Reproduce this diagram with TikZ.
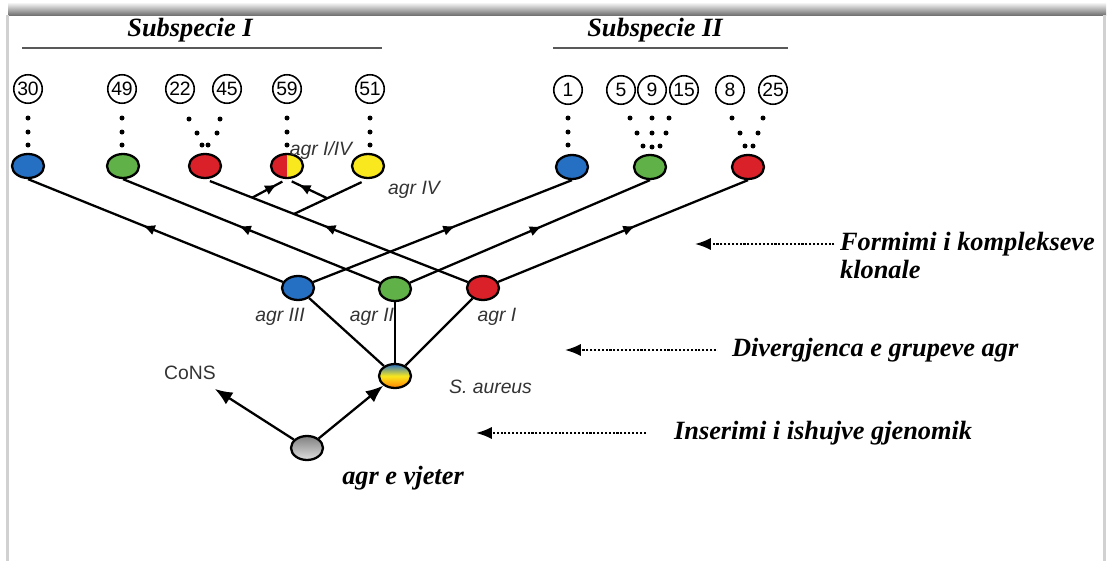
\documentclass[tikz,border=0pt]{standalone}
\usepackage{fontspec}
\setmainfont{Liberation Serif}
\setsansfont{Liberation Sans}
\usetikzlibrary{shapes,arrows,arrows.meta,calc,decorations.markings}
\definecolor{agrblue}{RGB}{38,112,196}
\definecolor{agrgreen}{RGB}{96,178,72}
\definecolor{agrred}{RGB}{218,32,40}
\definecolor{agryellow}{RGB}{250,232,30}
\tikzstyle{agr} = [ellipse, draw, line width=1.3pt, minimum width=0.64cm,
    minimum height=0.48cm, inner sep=0pt]
\tikzstyle{strain} = [circle, draw, line width=0.9pt, minimum size=0.57cm,
    inner sep=0pt, font=\sffamily\fontsize{11}{11}\selectfont]
\tikzstyle{lbl} = [font=\sffamily\itshape\fontsize{11}{12}\selectfont, text=black!80]
\tikzstyle{title} = [font=\bfseries\itshape\fontsize{15}{17}\selectfont]
\tikzstyle{line} = [draw, line width=1.3pt]
\tikzstyle{hint} = [draw, densely dotted, line width=1.2pt,
    -{Latex[length=9pt, width=7pt]}]
\tikzset{midarrow/.style={line, postaction={decorate},
    decoration={markings, mark=at position #1 with {\arrow{Latex[length=7pt, width=6pt]}}}},
    midarrow/.default=0.55}

\begin{document}
\begin{tikzpicture}[x=0.02cm, y=-0.02cm]
    \useasboundingbox (0,0) rectangle (1110,561);
    % Frame
    \shade[top color=white, bottom color=black!55] (8,2) rectangle (1106,15);
    \fill[black!18] (6,15) rectangle (9,561);
    \fill[black!18] (1103,15) rectangle (1106,561);
    % Subspecies headers
    \node[title] (sub1) at (190,30) {Subspecie I};
    \node[title] (sub2) at (655,30) {Subspecie II};
    \draw[black!65, line width=1.6pt] (22,48) -- (382,48);
    \draw[black!65, line width=1.6pt] (553,48) -- (788,48);
    % Place strains
    \node[strain] (s30) at (28,89) {30};
    \node[strain] (s49) at (122,89) {49};
    \node[strain] (s22) at (180,89) {22};
    \node[strain] (s45) at (227,89) {45};
    \node[strain] (s59) at (287,89) {59};
    \node[strain] (s51) at (370,89) {51};
    \node[strain] (s1) at (568,90) {1};
    \node[strain] (s5) at (621,90) {5};
    \node[strain] (s9) at (652,90) {9};
    \node[strain] (s15) at (684,90) {15};
    \node[strain] (s8) at (730,90) {8};
    \node[strain] (s25) at (773,90) {25};
    % Dots
    \foreach \x in {28,122,287,370,568}
        \foreach \y in {118,132,145}
            \fill (\x,\y) circle (2.5);
    \foreach \p in {(189,119),(197,133),(202,145),(208,145),(217,133),(220,119),
        (630,118),(652,118),(669,118),(637,133),(652,133),(666,133),
        (643,146),(652,147),(660,146),
        (732,118),(763,118),(740,133),(758,133),(745,146),(753,146)}
        \fill \p circle (2.5);
    % Place agr groups
    \node[agr, fill=agrblue] (tb1) at (28,166) {};
    \node[agr, fill=agrgreen] (tg1) at (123,166) {};
    \node[agr, fill=agrred] (tr1) at (205,166) {};
    \node[agr, path picture={
        \fill[agrred] (path picture bounding box.south west) rectangle (path picture bounding box.north);
        \fill[agryellow] (path picture bounding box.south) rectangle (path picture bounding box.north east);}]
        (t14) at (287,166) {};
    \node[agr, fill=agryellow] (ty) at (368,166) {};
    \node[agr, fill=agrblue] (tb2) at (572,167) {};
    \node[agr, fill=agrgreen] (tg2) at (650,167) {};
    \node[agr, fill=agrred] (tr2) at (748,167) {};
    \node[agr, fill=agrblue] (mb) at (298,288) {};
    \node[agr, fill=agrgreen] (mg) at (395,289) {};
    \node[agr, fill=agrred] (mr) at (483,288) {};
    \node[agr, top color=agrblue, bottom color=orange, middle color=agryellow] (sa) at (395,376) {};
    \node[agr, top color=black!50, bottom color=black!12] (old) at (307,448) {};
    % Labels
    \node[lbl] (l14) at (321,151) {agr I/IV};
    \node[lbl] (l4) at (414,190) {agr IV};
    \node[lbl] (l3) at (280,317) {agr III};
    \node[lbl] (l2) at (372,317) {agr II};
    \node[lbl] (l1) at (497,317) {agr I};
    \node[lbl, anchor=west] (lsa) at (443,387) {S. aureus};
    \node[lbl, font=\sffamily\fontsize{11}{12}\selectfont] (cons) at (190,373) {CoNS};
    \node[title] (lold) at (403,478) {agr e vjeter};
    % Draw edges
    \path[midarrow] (mb) -- (tb1.south);
    \path[midarrow] (mg) -- (tg1.south);
    \path[midarrow, shorten >=3pt] (mr) -- (tr1.south);
    \path[midarrow] (mb) -- (tb2.south);
    \path[midarrow] (mg) -- (tg2.south);
    \path[midarrow] (mr) -- (tr2.south);
    \coordinate (j1) at ($(mr)!0.83!(tr1.south)$);
    \coordinate (j2) at ($(mr)!0.68!(tr1.south)$);
    \path[line, shorten <=4pt] (ty.south) -- (j2);
    \coordinate (j3) at ($(j2)!0.45!(ty.south)$);
    \path[midarrow=0.72, shorten >=3pt] (j1) -- (t14.south);
    \path[midarrow=0.72, shorten >=3pt] (j3) -- (t14.south);
    \path[line] (mb) -- (sa);
    \path[line] (mg) -- (sa);
    \path[line] (mr) -- (sa);
    \path[line, -{Latex[length=10pt, width=8pt]}, shorten >=3pt] (old) -- (cons);
    \path[line, -{Latex[length=10pt, width=8pt]}] (old) -- (sa);
    % Stages
    \node[title, anchor=west, inner sep=1pt] (form) at (838,244) {Formimi i komplekseve};
    \node[title, anchor=north west, inner sep=1pt] (form2) at (form.south west) {klonale};
    \node[title, anchor=west, inner sep=1pt] (div) at (730,350) {Divergjenca e grupeve agr};
    \node[title, anchor=west, inner sep=1pt] (ins) at (672,433) {Inserimi i ishujve gjenomik};
    \coordinate (formtip) at (695,244);
    \coordinate (divtip) at (565,350);
    \coordinate (instip) at (476,433);
    \path[hint, shorten <=2pt] (form.west) -- (formtip);
    \path[hint, shorten <=8pt] (div.west) -- (divtip);
    \path[hint, shorten <=15pt] (ins.west) -- (instip);
\end{tikzpicture}
\end{document}
